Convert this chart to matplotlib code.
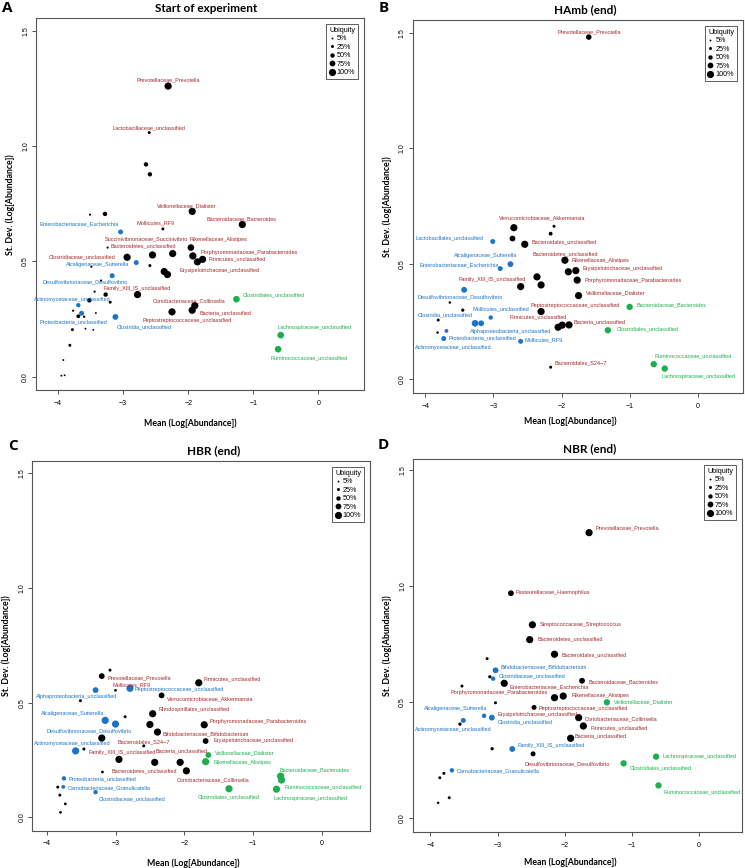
import matplotlib
matplotlib.use('Agg')
import matplotlib.pyplot as plt
from matplotlib.lines import Line2D

plt.rcParams['font.family'] = ['Liberation Sans', 'DejaVu Sans']

W, H = 745, 868

# ---------------- data (mean log abundance, sd log abundance, ubiquity, group) ----------------
# group: k = shared core (black), b = blue, g = green
a_taxa = ['Prevotellaceae_Prevotella', 'Lactobacillaceae_unclassified', '', '', 'Veillonellaceae_Dialister',
          'Bacteroidaceae_Bacteroides', '', '', 'Enterobacteriaceae_Escherichia', 'Mollicutes_RF9',
          'Bacteroidetes_unclassified', 'Succinivibrionaceae_Succinivibrio', 'Rikenellaceae_Alistipes', '',
          'Porphyromonadaceae_Parabacteroides', '', 'Firmicutes_unclassified', 'Clostridiaceae_unclassified',
          'Alcaligenaceae_Sutterella', '', '', '', 'Erysipelotrichaceae_unclassified',
          'Desulfovibrionaceae_Desulfovibrio', '', 'Family_XIII_IS_unclassified', '', '',
          'Actinomycetaceae_unclassified', '', '', '', 'Proteobacteria_unclassified', '', '', '',
          'Clostridia_unclassified', 'Coriobacteriaceae_Collinsella', 'Bacteria_unclassified',
          'Peptostreptococcaceae_unclassified', 'Clostridiales_unclassified', 'Lachnospiraceae_unclassified',
          'Ruminococcaceae_unclassified', '', '', '', '', '', '', '']
a_mean = [-2.31, -2.60, -2.65, -2.59, -1.94, -1.17, -3.51, -3.28, -3.04, -2.39,
          -3.24, -2.55, -1.96, -2.24, -1.93, -1.86, -1.78, -2.94, -2.80, -3.49,
          -2.59, -2.37, -2.32, -3.17, -3.34, -2.78, -3.27, -3.44, -3.69, -3.52,
          -3.20, -3.77, -3.64, -3.69, -3.60, -3.42, -3.12, -1.90, -1.94, -2.25,
          -1.26, -0.58, -0.62, -3.78, -3.58, -3.46, -3.82, -3.92, -3.95, -3.90]
a_sd = [1.261, 1.059, 0.921, 0.878, 0.717, 0.660, 0.703, 0.706, 0.628, 0.641,
        0.560, 0.528, 0.560, 0.534, 0.524, 0.498, 0.509, 0.518, 0.495, 0.477,
        0.482, 0.456, 0.443, 0.438, 0.417, 0.356, 0.356, 0.369, 0.310, 0.331,
        0.323, 0.286, 0.275, 0.262, 0.260, 0.276, 0.259, 0.308, 0.288, 0.281,
        0.336, 0.180, 0.119, 0.204, 0.208, 0.203, 0.136, 0.072, 0.004, 0.006]
a_ubiq = [1.0, 0.25, 0.5, 0.5, 1.0, 1.0, 0.1, 0.5, 0.6, 0.25,
          0.1, 1.0, 0.9, 1.0, 1.0, 1.0, 1.0, 1.0, 0.6, 0.1,
          0.25, 1.0, 1.0, 0.6, 0.1, 1.0, 0.5, 0.1, 0.5, 0.5,
          0.25, 0.1, 0.6, 0.4, 0.15, 0.05, 0.75, 1.0, 1.0, 1.0,
          0.9, 0.9, 0.9, 0.25, 0.05, 0.05, 0.25, 0.05, 0.05, 0.05]
a_group = 'kkkkkkkkbk' 'kkkkkkkkbk' 'kkkbkkkkbk' 'kkbkkkbkkk' 'gggkkkkkkk'

b_taxa = ['Prevotellaceae_Prevotella', 'Verrucomicrobiaceae_Akkermansia', '', '', '', 'Bacteroidales_unclassified',
          'Lactobacillales_unclassified', 'Alcaligenaceae_Sutterella', 'Enterobacteriaceae_Escherichia',
          'Bacteroidetes_unclassified', 'Rikenellaceae_Alistipes', 'Erysipelotrichaceae_unclassified',
          'Porphyromonadaceae_Parabacteroides', 'Veillonellaceae_Dialister', 'Family_XIII_IS_unclassified', '', '',
          'Desulfovibrionaceae_Desulfovibrio', '', '', 'Peptostreptococcaceae_unclassified',
          'Mollicutes_unclassified', '', 'Clostridia_unclassified', 'Alphaproteobacteria_unclassified',
          'Firmicutes_unclassified', '', 'Bacteria_unclassified', 'Actinomycetaceae_unclassified', '',
          'Proteobacteria_unclassified', 'Mollicutes_RF9', 'Bacteroidales_S24\u22127', 'Bacteroidaceae_Bacteroides',
          'Clostridiales_unclassified', 'Ruminococcaceae_unclassified', 'Lachnospiraceae_unclassified']
b_mean = [-1.60, -2.70, -2.11, -2.16, -2.72, -2.54, -3.01, -2.75, -2.90, -1.95,
          -1.79, -1.90, -1.77, -1.75, -2.60, -2.36, -2.30, -3.43, -3.64, -3.45,
          -2.30, -3.04, -3.81, -3.27, -3.18, -2.05, -1.99, -1.89, -3.69, -3.82,
          -3.73, -2.60, -2.16, -1.00, -1.32, -0.646, -0.485]
b_sd = [1.481, 0.656, 0.662, 0.630, 0.609, 0.584, 0.596, 0.498, 0.479, 0.515,
        0.470, 0.465, 0.429, 0.362, 0.401, 0.443, 0.408, 0.387, 0.332, 0.299,
        0.293, 0.267, 0.256, 0.242, 0.242, 0.225, 0.234, 0.235, 0.209, 0.202,
        0.176, 0.164, 0.052, 0.313, 0.212, 0.065, 0.046]
b_ubiq = [0.7, 1.0, 0.25, 0.4, 0.75, 1.0, 0.6, 0.75, 0.6, 1.0,
          1.0, 1.0, 1.0, 1.0, 1.0, 1.0, 1.0, 0.75, 0.15, 0.3,
          1.0, 0.5, 0.25, 0.9, 0.75, 1.0, 1.0, 1.0, 0.4, 0.15,
          0.6, 0.6, 0.25, 0.85, 0.85, 0.85, 0.85]
b_group = 'kkkkkkbbbk' 'kkkkkkkbkk' 'kbkbbkkkbk' 'bbkgggg'

c_taxa = ['', 'Prevotellaceae_Prevotella', 'Firmicutes_unclassified', 'Mollicutes_RF9',
          'Alphaproteobacteria_unclassified', 'Peptostreptococcaceae_unclassified',
          'Verrucomicrobiaceae_Akkermansia', '', 'Rhodospirillales_unclassified', '',
          'Alcaligenaceae_Sutterella', 'Desulfovibrionaceae_Desulfovibrio', '',
          'Porphyromonadaceae_Parabacteroides', 'Bifidobacteriaceae_Bifidobacterium', '',
          'Actinomycetaceae_unclassified', 'Bacteroidales_S24\u22127', 'Erysipelotrichaceae_unclassified', '',
          'Family_XIII_IS_unclassified', 'Bacteria_unclassified', 'Bacteroidetes_unclassified',
          'Veillonellaceae_Dialister', 'Rikenellaceae_Alistipes', '', 'Coriobacteriaceae_Collinsella',
          'Bacteroidaceae_Bacteroides', 'Ruminococcaceae_unclassified', 'Proteobacteria_unclassified', '',
          'Carnobacteriaceae_Granulicatella', 'Clostridiales_unclassified', 'Lachnospiraceae_unclassified',
          'Clostridiaceae_unclassified', '', '', '']
c_mean = [-3.08, -3.20, -1.79, -3.00, -3.29, -2.79, -2.33, -3.51, -2.46, -2.86,
          -3.15, -3.00, -2.50, -1.71, -2.39, -3.20, -3.58, -2.59, -1.69, -3.46,
          -2.95, -2.06, -2.43, -1.65, -1.69, -3.19, -1.97, -0.60, -0.586, -3.75,
          -3.84, -3.76, -1.35, -0.66, -3.29, -3.81, -3.73, -3.80]
c_sd = [0.642, 0.616, 0.587, 0.554, 0.555, 0.563, 0.532, 0.509, 0.452, 0.439,
        0.423, 0.407, 0.405, 0.404, 0.372, 0.346, 0.290, 0.312, 0.333, 0.298,
        0.253, 0.240, 0.240, 0.272, 0.243, 0.198, 0.203, 0.180, 0.163, 0.170,
        0.132, 0.133, 0.125, 0.123, 0.110, 0.097, 0.059, 0.022]
c_ubiq = [0.25, 0.75, 1.0, 0.2, 0.75, 1.0, 0.75, 0.25, 1.0, 0.25,
          1.0, 1.0, 1.0, 1.0, 1.0, 1.0, 1.0, 0.25, 0.75, 0.25,
          1.0, 1.0, 1.0, 0.75, 1.0, 0.2, 1.0, 1.0, 1.0, 0.5,
          0.25, 0.4, 1.0, 1.0, 0.5, 0.25, 0.2, 0.2]
c_group = 'kkkkbbkkkk' 'bbkkkkbkkk' 'kkkggkkggb' 'kbggbkkk'

d_taxa = ['Prevotellaceae_Prevotella', 'Pasteurellaceae_Haemophilus', 'Streptococcaceae_Streptococcus',
          'Bacteroidetes_unclassified', 'Bacteroidales_unclassified', '', 'Bifidobacteriaceae_Bifidobacterium', '',
          'Clostridiaceae_unclassified', 'Bacteroidaceae_Bacteroides', 'Enterobacteriaceae_Escherichia', '',
          'Porphyromonadaceae_Parabacteroides', 'Rikenellaceae_Alistipes', 'Veillonellaceae_Dialister', '',
          'Peptostreptococcaceae_unclassified', 'Actinomycetaceae_unclassified', 'Alcaligenaceae_Sutterella',
          'Clostridia_unclassified', 'Coriobacteriaceae_Collinsella', 'Firmicutes_unclassified', '',
          'Bacteria_unclassified', '', 'Family_XIII_IS_unclassified', 'Desulfovibrionaceae_Desulfovibrio',
          'Lachnospiraceae_unclassified', 'Clostridiales_unclassified', 'Carnobacteriaceae_Granulicatella', '', '',
          'Ruminococcaceae_unclassified', '', '']
d_mean = [-1.635, -2.80, -2.48, -2.52, -2.15, -3.155, -3.03, -3.115, -3.065, -1.74,
          -2.90, -3.53, -2.15, -2.02, -1.37, -3.03, -2.455, -3.51, -3.20, -3.085,
          -1.79, -1.72, -3.56, -1.91, -3.08, -2.78, -2.47, -0.636, -1.12, -3.68,
          -3.80, -3.86, -0.60, -3.72, -3.885]
d_sd = [1.231, 0.970, 0.834, 0.770, 0.707, 0.688, 0.638, 0.610, 0.602, 0.593,
        0.582, 0.570, 0.520, 0.527, 0.500, 0.498, 0.478, 0.422, 0.442, 0.434,
        0.434, 0.398, 0.406, 0.345, 0.300, 0.299, 0.278, 0.266, 0.237, 0.207,
        0.194, 0.175, 0.142, 0.089, 0.067]
d_ubiq = [1.0, 0.75, 1.0, 1.0, 1.0, 0.25, 0.75, 0.3, 0.5, 0.75,
          1.0, 0.25, 1.0, 1.0, 0.85, 0.25, 0.6, 0.6, 0.5, 0.75,
          1.0, 1.0, 0.3, 1.0, 0.3, 0.75, 0.6, 0.85, 0.85, 0.5,
          0.25, 0.25, 0.85, 0.25, 0.15]
d_group = 'kkkkkkbkbk' 'kkkkgkkbbb' 'kkkkkbkggb' 'kkgkk'

# ---------------- label placement (pixel offsets from the point, alignment) ----------------
a_lab = {
    'Prevotellaceae_Prevotella': (0, 6, 'center'), 'Lactobacillaceae_unclassified': (0, 5, 'center'),
    'Veillonellaceae_Dialister': (-5, 5.6, 'center'), 'Bacteroidaceae_Bacteroides': (-1, 5.7, 'center'),
    'Enterobacteriaceae_Escherichia': (-1.7, 8, 'right'), 'Mollicutes_RF9': (-7.7, 5.7, 'center'),
    'Bacteroidetes_unclassified': (2.5, 1.3, 'left'), 'Succinivibrionaceae_Succinivibrio': (-5.7, 15.7, 'center'),
    'Rikenellaceae_Alistipes': (-1, 7.7, 'left'), 'Porphyromonadaceae_Parabacteroides': (8, 3, 'left'),
    'Firmicutes_unclassified': (6, 0.6, 'left'), 'Clostridiaceae_unclassified': (-11.3, 0, 'right'),
    'Alcaligenaceae_Sutterella': (-7, -2, 'right'), 'Erysipelotrichaceae_unclassified': (12.3, 4, 'left'),
    'Desulfovibrionaceae_Desulfovibrio': (-26.7, -6.6, 'center'), 'Family_XIII_IS_unclassified': (0, 5.7, 'center'),
    'Actinomycetaceae_unclassified': (-6.2, 5.3, 'center'), 'Proteobacteria_unclassified': (-7.7, -9, 'center'),
    'Clostridia_unclassified': (28.4, -10.3, 'center'), 'Coriobacteriaceae_Collinsella': (-5.5, 5, 'center'),
    'Bacteria_unclassified': (7, -3, 'left'), 'Peptostreptococcaceae_unclassified': (14.8, -9, 'center'),
    'Clostridiales_unclassified': (6.7, 4, 'left'), 'Lachnospiraceae_unclassified': (34.3, 7.6, 'center'),
    'Ruminococcaceae_unclassified': (31, -8.7, 'center'),
}
b_lab = {
    'Prevotellaceae_Prevotella': (0, 5.3, 'center'), 'Verrucomicrobiaceae_Akkermansia': (28.8, 10, 'center'),
    'Bacteroidales_unclassified': (7, 2.3, 'left'), 'Lactobacillales_unclassified': (-8.7, 4, 'right'),
    'Alcaligenaceae_Sutterella': (-24.5, 8.3, 'center'), 'Enterobacteriaceae_Escherichia': (-1.3, 4, 'right'),
    'Bacteroidetes_unclassified': (0, 6.3, 'center'), 'Rikenellaceae_Alistipes': (-4.7, 9.7, 'left'),
    'Erysipelotrichaceae_unclassified': (14, 3.3, 'left'), 'Porphyromonadaceae_Parabacteroides': (7.7, 0, 'left'),
    'Veillonellaceae_Dialister': (7.7, 2.7, 'left'), 'Family_XIII_IS_unclassified': (-28, 6.7, 'center'),
    'Desulfovibrionaceae_Desulfovibrio': (-4.3, -7.3, 'center'),
    'Peptostreptococcaceae_unclassified': (33.7, 6, 'center'), 'Mollicutes_unclassified': (9.7, 9, 'center'),
    'Clostridia_unclassified': (-2, 8, 'right'), 'Alphaproteobacteria_unclassified': (29.5, -8.4, 'center'),
    'Firmicutes_unclassified': (-20, 10.6, 'center'), 'Bacteria_unclassified': (4.7, 3.3, 'left'),
    'Actinomycetaceae_unclassified': (6.4, -16.7, 'center'), 'Proteobacteria_unclassified': (5, 0.7, 'left'),
    'Mollicutes_RF9': (4.3, 1.6, 'left'), 'Bacteroidales_S24\u22127': (4, 4.6, 'left'),
    'Bacteroidaceae_Bacteroides': (6.4, 2, 'left'), 'Clostridiales_unclassified': (9.3, 1, 'left'),
    'Ruminococcaceae_unclassified': (39.6, 8.6, 'center'), 'Lachnospiraceae_unclassified': (34, -8.3, 'center'),
}
c_lab = {
    'Prevotellaceae_Prevotella': (5.6, -1.3, 'left'), 'Firmicutes_unclassified': (5, 4.4, 'left'),
    'Mollicutes_RF9': (16.3, 6, 'center'), 'Alphaproteobacteria_unclassified': (-18.7, -6.3, 'center'),
    'Peptostreptococcaceae_unclassified': (4.7, -1, 'left'), 'Verrucomicrobiaceae_Akkermansia': (5, -3, 'left'),
    'Rhodospirillales_unclassified': (6, 4.4, 'left'), 'Alcaligenaceae_Sutterella': (-33, 6.7, 'center'),
    'Desulfovibrionaceae_Desulfovibrio': (-26, -6.3, 'center'),
    'Porphyromonadaceae_Parabacteroides': (5.3, 3.3, 'left'),
    'Bifidobacteriaceae_Bifidobacterium': (5.3, -2, 'left'), 'Actinomycetaceae_unclassified': (-3, 7, 'center'),
    'Bacteroidales_S24\u22127': (0, 4.4, 'center'), 'Erysipelotrichaceae_unclassified': (7.7, 0.7, 'left'),
    'Family_XIII_IS_unclassified': (3.5, 7, 'center'), 'Bacteria_unclassified': (1.4, 11.6, 'center'),
    'Bacteroidetes_unclassified': (-10, -8.7, 'center'), 'Veillonellaceae_Dialister': (6.7, 1.7, 'left'),
    'Rikenellaceae_Alistipes': (7.7, -0.6, 'left'), 'Coriobacteriaceae_Collinsella': (26.3, -8.6, 'center'),
    'Bacteroidaceae_Bacteroides': (33.6, 6.3, 'center'), 'Ruminococcaceae_unclassified': (3.3, -7, 'left'),
    'Proteobacteria_unclassified': (5, 0, 'left'), 'Carnobacteriaceae_Granulicatella': (4.4, -1, 'left'),
    'Clostridiales_unclassified': (0, -7.6, 'center'), 'Lachnospiraceae_unclassified': (34.3, -9.3, 'center'),
    'Clostridiaceae_unclassified': (36.3, -7, 'center'),
}
d_lab = {
    'Prevotellaceae_Prevotella': (6.3, 4.4, 'left'), 'Pasteurellaceae_Haemophilus': (5, 1, 'left'),
    'Streptococcaceae_Streptococcus': (7.7, 0.4, 'left'), 'Bacteroidetes_unclassified': (7.4, 0.4, 'left'),
    'Bacteroidales_unclassified': (6.7, -0.4, 'left'), 'Bifidobacteriaceae_Bifidobacterium': (5, 3.6, 'left'),
    'Clostridiaceae_unclassified': (5.7, 2.7, 'left'), 'Bacteroidaceae_Bacteroides': (6.7, -1, 'left'),
    'Enterobacteriaceae_Escherichia': (5.7, -4, 'left'), 'Porphyromonadaceae_Parabacteroides': (-6.3, 4.7, 'right'),
    'Rikenellaceae_Alistipes': (8, 0.3, 'left'), 'Veillonellaceae_Dialister': (7, 0, 'left'),
    'Peptostreptococcaceae_unclassified': (4.7, -1, 'left'),
    'Erysipelotrichaceae_unclassified': (3.8, -7, 'center'),
    'Alcaligenaceae_Sutterella': (-28.8, 7.7, 'center'), 'Actinomycetaceae_unclassified': (-9.8, -9, 'center'),
    'Clostridia_unclassified': (5.6, -4, 'left'), 'Coriobacteriaceae_Collinsella': (5.6, -1.3, 'left'),
    'Firmicutes_unclassified': (7, -1.7, 'left'), 'Bacteria_unclassified': (4, 2.6, 'left'),
    'Family_XIII_IS_unclassified': (5.4, 3.3, 'left'), 'Desulfovibrionaceae_Desulfovibrio': (34.1, -9.6, 'center'),
    'Lachnospiraceae_unclassified': (6.7, -0.3, 'left'), 'Clostridiales_unclassified': (6.4, -4, 'left'),
    'Carnobacteriaceae_Granulicatella': (5.3, -0.7, 'left'), 'Ruminococcaceae_unclassified': (43.5, -6.4, 'center'),
}
# labels hung on another taxon's point
d_anchor = {'Erysipelotrichaceae_unclassified': 'Peptostreptococcaceae_unclassified'}

POINT_COL = {'k': 'black', 'b': '#1b74c5', 'g': '#1fae4f'}
TEXT_COL = {'k': '#a3282b', 'b': '#1b74c5', 'g': '#1fae4f'}
LEGEND_UBIQ = [0.05, 0.25, 0.5, 0.75, 1.0]
LEGEND_TXT = ['5%', '25%', '50%', '75%', '100%']


def diam(u):
    # marker diameter in points
    return (1.6 + 5.6 * u) * 0.72


def rect(l, r, t, b):
    return [l / W, 1 - b / H, (r - l) / W, (b - t) / H]


def draw_panel(ax, taxa, mean, sd, ubiq, group, labels, xlim, ylim, anchors=None):
    anchors = anchors or {}
    ax.scatter(mean, sd, s=[diam(u) ** 2 for u in ubiq], c=[POINT_COL[g] for g in group],
               linewidths=0, zorder=3)
    for name, (dx, dy, ha) in labels.items():
        i = taxa.index(anchors.get(name, name))
        ax.annotate(name, (mean[i], sd[i]), xytext=(dx, dy), textcoords='offset pixels',
                    ha=ha, va='center', fontsize=4, color=TEXT_COL[group[i]], zorder=4)
    ax.set_xlim(*xlim)
    ax.set_ylim(*ylim)
    ax.set_xticks([-4, -3, -2, -1, 0])
    ax.set_xticklabels(['\u22124', '\u22123', '\u22122', '\u22121', '0'])
    ax.set_yticks([0, 0.5, 1.0, 1.5])
    ax.set_yticklabels(['0.0', '0.5', '1.0', '1.5'], rotation=90, va='center')
    ax.tick_params(labelsize=5, length=3, width=0.6, color='#333333', pad=2)
    ax.tick_params(axis='x', pad=4)
    for s in ax.spines.values():
        s.set_color('#555555')
        s.set_linewidth(0.8)
    handles = [Line2D([], [], marker='o', ls='', color='black', markeredgewidth=0, markersize=diam(u))
               for u in LEGEND_UBIQ]
    leg = ax.legend(handles, LEGEND_TXT, title='Ubiquity', loc='upper right', fontsize=5.2,
                    title_fontsize=5.2, frameon=True, fancybox=False, edgecolor='#333333',
                    borderpad=0.4, labelspacing=0.2, handlelength=0.6, handletextpad=0.4,
                    borderaxespad=0.8)
    leg.get_frame().set_linewidth(0.7)
    ax.set_ylabel('St. Dev. (Log[Abundance])', family='Lato', weight='bold', fontsize=6.3, labelpad=5)


fig = plt.figure(figsize=(W / 100, H / 100), dpi=100)

panels = [
    (rect(36, 364, 18.3, 390), a_taxa, a_mean, a_sd, a_ubiq, a_group, a_lab, (-4.34, 0.70), (-0.058, 1.555), None),
    (rect(412.7, 742.7, 20, 393.3), b_taxa, b_mean, b_sd, b_ubiq, b_group, b_lab, (-4.185, 0.66), (-0.061, 1.555), None),
    (rect(32.3, 370, 461, 830.7), c_taxa, c_mean, c_sd, c_ubiq, c_group, c_lab, (-4.21, 0.70), (-0.058, 1.554), None),
    (rect(413, 742, 459.3, 832.3), d_taxa, d_mean, d_sd, d_ubiq, d_group, d_lab, (-4.26, 0.645), (-0.06, 1.547), d_anchor),
]
for pos, taxa, mean, sd, ubiq, group, labels, xl, yl, anc in panels:
    ax = fig.add_axes(pos)
    draw_panel(ax, taxa, mean, sd, ubiq, group, labels, xl, yl, anc)

# titles, panel letters, x labels (pixel positions)
titles = [('Start of experiment', 206.5, 8.5), ('HAmb (end)', 585.7, 10), ('HBR (end)', 213.3, 451),
          ('NBR (end)', 589.5, 449)]
for t, x, y in titles:
    fig.text(x / W, 1 - y / H, t, ha='center', va='center', family='Lato', weight='bold', fontsize=8.5)
letters = [('A', 7, 8), ('B', 384, 8), ('C', 13, 446), ('D', 383, 445)]
for t, x, y in letters:
    fig.text(x / W, 1 - y / H, t, ha='center', va='center', family='Open Sans', weight='bold', fontsize=11)
xlabs = [(190.7, 423.3), (570.3, 421.7), (193.3, 863.3), (570.7, 862.7)]
for x, y in xlabs:
    fig.text(x / W, 1 - y / H, 'Mean (Log[Abundance])', ha='center', va='center', family='Lato',
             weight='bold', fontsize=6.3)

fig.savefig('out.png', dpi=100)
